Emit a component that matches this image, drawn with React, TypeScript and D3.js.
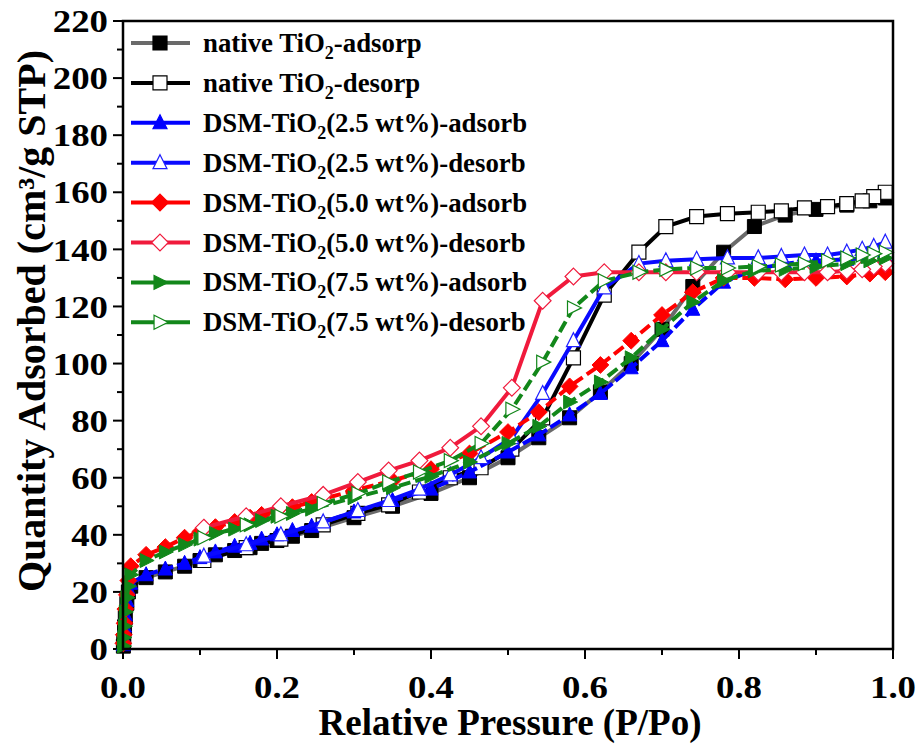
import React from "react";
import * as d3 from "d3";

const pAds = [0.0005, 0.001, 0.002, 0.003, 0.005, 0.007, 0.01, 0.03, 0.055, 0.08, 0.1, 0.12, 0.145, 0.165, 0.18, 0.2, 0.22, 0.245, 0.3, 0.35, 0.4, 0.45, 0.5, 0.54, 0.58, 0.62, 0.66, 0.7, 0.74, 0.78, 0.82, 0.86, 0.9, 0.94, 0.97, 0.99];
const pDes = [0.99, 0.975, 0.96, 0.94, 0.915, 0.885, 0.855, 0.825, 0.785, 0.745, 0.705, 0.67, 0.625, 0.585, 0.545, 0.505, 0.465, 0.425, 0.385, 0.345, 0.305, 0.26, 0.205, 0.16, 0.105];

const nativeAds = [1, 3, 7, 11, 16, 20, 22, 25, 27, 29, 31, 33, 34.5, 35.5, 37, 38, 39.5, 41.5, 46, 50, 54.5, 60, 67, 74, 81, 90, 100, 112, 127, 139, 148, 152, 154, 155.5, 157, 158];
const nativeDes = [160, 158.5, 157, 156, 155, 154.5, 153.5, 153, 152.5, 151.5, 148, 139, 124, 102, 81, 70, 63.5, 60, 55, 50.5, 47.5, 43.5, 38.5, 35.5, 31];
const dsm25Ads = [1.5, 4, 8, 12, 17, 21, 23, 26, 28, 30, 32, 34, 36, 37, 38.5, 40, 41.5, 43, 48, 52, 56, 62, 69, 75, 82, 89.5, 98.5, 108, 119, 128.5, 133, 135, 136, 136.5, 137, 137.5];
const dsm25Des = [142.5, 141, 140, 139, 138, 138, 137.5, 137, 137, 136.5, 136, 135, 126.5, 108, 89.5, 74, 67, 61, 56, 52, 48.5, 44.5, 40, 36.5, 32.5];
const dsm50Ads = [2, 5, 9, 14, 19, 24, 29, 33, 35.7, 39, 41, 42.7, 44.5, 46, 47, 48.5, 49.7, 51.5, 55.5, 59, 63, 68.5, 76, 83, 92, 99.5, 108, 117, 125, 130, 130, 129.5, 130, 130.5, 131.5, 132];
const dsm50Des = [135, 134, 133, 132.5, 132, 132, 132, 132, 132, 132, 132, 132, 132, 130.5, 122, 91.5, 78, 70.5, 66, 62.5, 58.5, 54, 50, 46.5, 42.5];
const dsm75Ads = [1, 4, 8, 13, 18, 22, 26, 31, 34, 36.5, 38.5, 40.5, 42, 43.5, 45, 46.5, 47.5, 49, 53, 56.5, 60.5, 65.5, 72, 78, 86.5, 93.5, 102, 112, 121.5, 129, 132.5, 133, 134, 135, 136, 137];
const dsm75Des = [139, 138.5, 138, 137, 136, 135, 134.5, 134, 133.5, 133.5, 133, 132, 129, 119.5, 100.5, 84, 72, 66, 62, 58.5, 54.5, 51, 46.5, 43.5, 39];

const xTicks = [0, 0.2, 0.4, 0.6, 0.8, 1.0];
const yTicks = [0, 20, 40, 60, 80, 100, 120, 140, 160, 180, 200, 220];

type Shape = "square" | "triUp" | "diamond" | "triRight";
interface Series {
  pre: string; sub: string; post: string;
  xs: number[]; ys: number[];
  line: string; dash: string | null;
  shape: Shape; filled: boolean; mColor: string;
}

const series: Series[] = [
  { pre: "native TiO", sub: "2", post: "-adsorp", xs: pAds, ys: nativeAds, line: "#6a6a6a", dash: null, shape: "square", filled: true, mColor: "#000" },
  { pre: "native TiO", sub: "2", post: "-desorp", xs: pDes, ys: nativeDes, line: "#000", dash: null, shape: "square", filled: false, mColor: "#000" },
  { pre: "DSM-TiO", sub: "2", post: "(2.5 wt%)-adsorb", xs: pAds, ys: dsm25Ads, line: "#0000ff", dash: "12,4", shape: "triUp", filled: true, mColor: "#0000ff" },
  { pre: "DSM-TiO", sub: "2", post: "(2.5 wt%)-desorb", xs: pDes, ys: dsm25Des, line: "#0a0aff", dash: null, shape: "triUp", filled: false, mColor: "#2020ff" },
  { pre: "DSM-TiO", sub: "2", post: "(5.0 wt%)-adsorb", xs: pAds, ys: dsm50Ads, line: "#ff0000", dash: "12,5", shape: "diamond", filled: true, mColor: "#ff0000" },
  { pre: "DSM-TiO", sub: "2", post: "(5.0 wt%)-desorb", xs: pDes, ys: dsm50Des, line: "#f01a3c", dash: null, shape: "diamond", filled: false, mColor: "#f01a3c" },
  { pre: "DSM-TiO", sub: "2", post: "(7.5 wt%)-adsorb", xs: pAds, ys: dsm75Ads, line: "#12871a", dash: "12,5", shape: "triRight", filled: true, mColor: "#12871a" },
  { pre: "DSM-TiO", sub: "2", post: "(7.5 wt%)-desorb", xs: pDes, ys: dsm75Des, line: "#12871a", dash: "12,5", shape: "triRight", filled: false, mColor: "#12871a" },
];

function markerPath(shape: Shape, r: number): string {
  const p = d3.path();
  if (shape === "square") {
    p.rect(-r, -r, 2 * r, 2 * r);
  } else if (shape === "triUp") {
    p.moveTo(0, -r * 1.15); p.lineTo(r, r * 0.85); p.lineTo(-r, r * 0.85); p.closePath();
  } else if (shape === "triRight") {
    p.moveTo(r * 1.15, 0); p.lineTo(-r * 0.85, r); p.lineTo(-r * 0.85, -r); p.closePath();
  } else {
    p.moveTo(0, -r * 1.2); p.lineTo(r * 1.2, 0); p.lineTo(0, r * 1.2); p.lineTo(-r * 1.2, 0); p.closePath();
  }
  return p.toString();
}

const W = 920, H = 746;
const L = 123, R = 893, T = 21, B = 649;
const FONT = "'Liberation Serif', 'Times New Roman', serif";

export default function App() {
  const x = d3.scaleLinear().domain([0, 1]).range([L, R]);
  const y = d3.scaleLinear().domain([0, 220]).range([B, T]);
  const line = d3.line<[number, number]>().x(d => x(d[0])).y(d => y(d[1]));
  const xMinor = d3.range(0, 1.0001, 0.1);
  const yMinor = d3.range(0, 220.001, 10);
  const r = 7;

  return (
    <svg width={W} height={H} style={{ position: "absolute", left: 0, top: 0, background: "#fff" }} fontFamily={FONT}>
      <rect x={0} y={0} width={W} height={H} fill="#fff" />
      {/* ticks */}
      {yMinor.map((v, i) => (
        <line key={"ym" + i} x1={L} x2={L - (v % 20 === 0 ? 10 : 6)} y1={y(v)} y2={y(v)} stroke="#000" strokeWidth={2} />
      ))}
      {xMinor.map((v, i) => (
        <line key={"xm" + i} x1={x(v)} x2={x(v)} y1={B} y2={B + (i % 2 === 0 ? 10 : 6)} stroke="#000" strokeWidth={2} />
      ))}
      {yTicks.map(v => (
        <text key={"yt" + v} transform={`translate(${L - 15},${y(v)}) scale(1.15,1)`} dy="0.35em" textAnchor="end" fontSize={32} fontWeight="bold">{v}</text>
      ))}
      {xTicks.map(v => (
        <text key={"xt" + v} transform={`translate(${x(v)},${B + 49}) scale(1.15,1)`} textAnchor="middle" fontSize={32} fontWeight="bold">{v.toFixed(1)}</text>
      ))}
      <text x={(L + R) / 2 + 2} y={735} textAnchor="middle" fontSize={37} fontWeight="bold">Relative Pressure (P/Po)</text>
      <text transform={`translate(45,${(T + B) / 2 - 14}) rotate(-90)`} textAnchor="middle" fontSize={40} fontWeight="bold">Quantity Adsorbed (cm³/g STP)</text>

      {/* series */}
      {series.map((s, i) => {
        const pts = s.xs.map((px, j) => [px, s.ys[j]] as [number, number]);
        return (
          <g key={"s" + i}>
            <path d={line(pts) || ""} fill="none" stroke={s.line} strokeWidth={4} strokeDasharray={s.dash || undefined} />
            {pts.map((d, j) => (
              <path key={j} d={markerPath(s.shape, r)} transform={`translate(${x(d[0])},${y(d[1])})`}
                fill={s.filled ? s.mColor : "#fff"} stroke={s.mColor} strokeWidth={s.filled ? 1 : 1.2} />
            ))}
          </g>
        );
      })}

      {/* frame */}
      <rect x={L} y={T} width={R - L} height={B - T} fill="none" stroke="#000" strokeWidth={2.5} />

      {/* legend */}
      {series.map((s, i) => {
        const cy = 43 + i * 39.9;
        return (
          <g key={"lg" + i}>
            <line x1={131} x2={190} y1={cy} y2={cy} stroke={s.line} strokeWidth={4} />
            <path d={markerPath(s.shape, 7)} transform={`translate(160,${cy})`} fill={s.filled ? s.mColor : "#fff"} stroke={s.mColor} strokeWidth={1.2} />
            <text x={203} y={cy + 9} fontSize={26.8} fontWeight="bold">
              {s.pre}<tspan fontSize={18} dy={7}>{s.sub}</tspan><tspan dy={-7}>{s.post}</tspan>
            </text>
          </g>
        );
      })}
    </svg>
  );
}
